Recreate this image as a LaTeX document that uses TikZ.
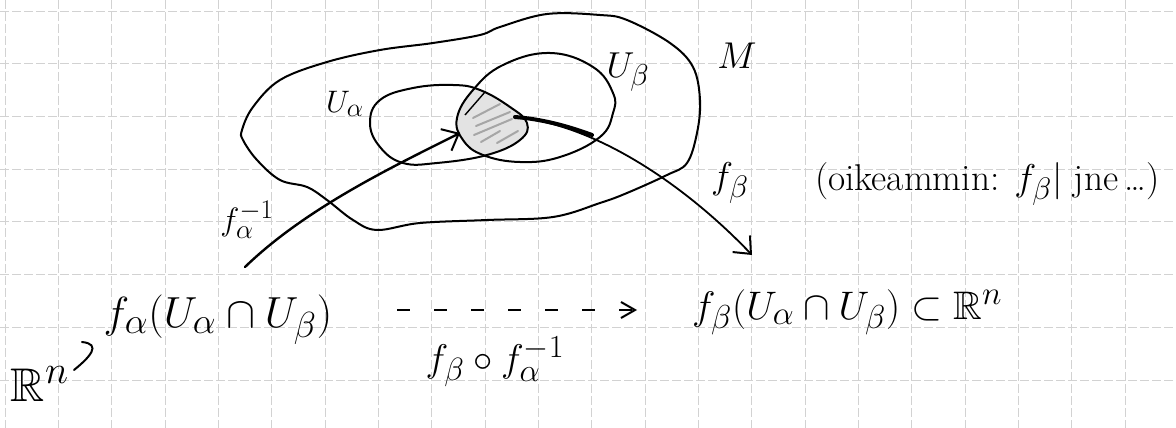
\documentclass[tikz,border=0pt]{standalone}
\usepackage{amssymb}
\usetikzlibrary{arrows.meta}
\newcommand{\sbx}[2]{\scalebox{#1}{#2}}
\tikzset{
  gridline/.style={gray!35, line width=0.8pt, dash pattern=on 9pt off 3pt},
  blob/.style={line width=2pt, line join=round},
  maparrow/.style={line width=2.4pt, line cap=round, -{Straight Barb[length=14pt,width=24pt,line width=2pt]}},
  dasharrow/.style={line width=2.2pt, dash pattern=on 13pt off 24pt, -{Straight Barb[length=14pt,width=16pt,line width=2pt]}},
  hatch/.style={gray!70, line width=2pt, line cap=round},
  lbl/.style={inner sep=0pt, outer sep=0pt, font=\Huge},
}
\begin{document}
\begin{tikzpicture}[x=1pt,y=-1pt]
\useasboundingbox (0,0) rectangle (1176,428);
% grid paper
\foreach \k in {0,...,22} \draw[gridline] ({5+53.33*\k},0) -- ({5+53.33*\k},428);
\foreach \k in {0,...,7} \draw[gridline] (0,{11+52.7*\k}) -- (1176,{11+52.7*\k});
% shaded intersection
\begin{scope}
  \clip plot[smooth cycle, tension=0.7] coordinates {(370,123) (380,100) (413,88) (453,85) (480,90) (510,107) (527,123) (520,140) (487,155) (437,163) (403,163) (380,147)};
  \fill[gray!22] plot[smooth cycle, tension=0.7] coordinates {(457,118) (473,90) (503,65) (550,53) (593,67) (613,93) (613,113) (600,137) (560,157) (520,162) (483,155) (463,140)};
\end{scope}
\draw[hatch] (473,118) -- (500,104);
\draw[hatch] (476,126) -- (510,112);
\draw[hatch] (474,135) -- (512,119);
\draw[hatch] (481,142) -- (500,131);
\draw[hatch] (497,143) -- (518,131);
\draw[line width=1.4pt] (465,115) -- (485,92);
% manifold M
\draw[blob] plot[smooth cycle, tension=0.6] coordinates {(242,130) (253,107) (280,80) (327,62) (380,50) (433,43) (480,35) (500,27) (547,14) (600,15) (627,20) (670,43) (693,67) (700,100) (697,133) (687,163) (667,175) (627,193) (600,203) (553,217) (487,220) (420,223) (377,230) (353,220) (327,200) (307,187) (280,180) (257,160) (243,140)};
% U alpha
\draw[blob] plot[smooth cycle, tension=0.7] coordinates {(370,123) (380,100) (413,88) (453,85) (480,90) (510,107) (527,123) (520,140) (487,155) (437,163) (403,163) (380,147)};
% U beta
\draw[blob] plot[smooth cycle, tension=0.7] coordinates {(457,118) (473,90) (503,65) (550,53) (593,67) (613,93) (613,113) (600,137) (560,157) (520,162) (483,155) (463,140)};
% labels in M
\node[lbl] (M) at (737,56) {\sbx{1.5}{$M$}};
\node[lbl] (Ub) at (628,72) {\sbx{1.45}{$U_\beta$}};
\node[lbl] (Ua) at (345,104) {\sbx{1.25}{$U_\alpha$}};
% chart arrows
\coordinate (ainvS) at (245,267);
\coordinate (ainvE) at (460,133);
\draw[maparrow] (ainvS) .. controls (305,209) and (390,168) .. (ainvE);
\node[lbl] (lainv) at (247,220) {\sbx{1.3}{$f_\alpha^{-1}$}};
\coordinate (fbS) at (515,117);
\coordinate (fbE) at (752,255);
\draw[maparrow, line width=1.8pt] (fbS) .. controls (600,125) and (690,190) .. (fbE);
\draw[line width=4pt, line cap=round] (fbS) .. controls (540,119) and (565,125) .. (592,135);
\node[lbl] (lfb) at (730,183) {\sbx{1.5}{$f_\beta$}};
\node[lbl, anchor=west] (note) at (815,184) {\sbx{1.5}{(oikeammin: $f_\beta|$ jne\,\dots)}};
% bottom row
\node[lbl, anchor=base] (fa) at (218,327) {\sbx{1.75}{$f_\alpha(U_\alpha\cap U_\beta)$}};
\node[lbl, anchor=base west] (fb) at (692,319) {\sbx{1.6}{$f_\beta(U_\alpha\cap U_\beta)\subset\mathbb{R}^n$}};
\coordinate (dS) at (397,310);
\coordinate (dE) at (637,310);
\draw[dasharrow] (dS) -- (dE);
\node[lbl] (comp) at (495,362) {\sbx{1.55}{$f_\beta\circ f_\alpha^{-1}$}};
\node[lbl] (Rn) at (40,384) {\sbx{1.9}{$\mathbb{R}^n$}};
\draw[line width=2pt, line cap=round] (74,370) .. controls (90,357) and (102,344) .. (82,342);
\end{tikzpicture}
\end{document}
